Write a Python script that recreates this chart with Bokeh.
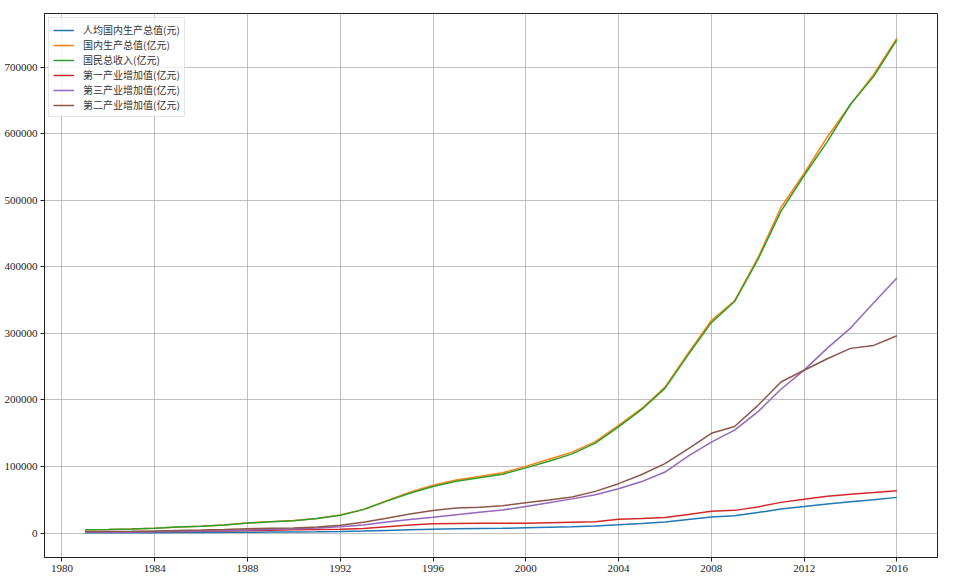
from bokeh.plotting import figure
from bokeh.models import SingleIntervalTicker, BasicTickFormatter, Range1d, Legend, LegendItem
from bokeh.embed import file_html
from bokeh.resources import INLINE

years = list(range(1981, 2017))

per_capita_gdp = [497, 533, 588, 702, 866, 973, 1123, 1378, 1536, 1663, 1912, 2334, 3027, 4081,
                  5091, 5898, 6481, 6860, 7229, 7942, 8717, 9506, 10666, 12487, 14368, 16738,
                  20494, 24100, 26180, 30808, 36302, 39874, 43684, 47005, 50028, 53680]
gdp = [4935.8, 5373.4, 6020.9, 7278.5, 9098.9, 10376.2, 12174.6, 15180.4, 17179.7, 18872.9,
       22005.6, 27194.5, 35673.2, 48637.5, 61339.9, 71813.6, 79715.0, 85195.5, 90564.4,
       100280.1, 110863.1, 121717.4, 137422.0, 161840.2, 187318.9, 219438.5, 270232.3,
       319515.5, 349081.4, 413030.3, 489300.6, 540367.4, 595244.4, 643974.0, 689052.1, 743585.5]
gni = [4889.5, 5330.5, 5985.6, 7243.8, 9040.7, 10274.4, 12050.6, 15036.8, 17000.9, 18718.3,
       21826.2, 26937.3, 35260.0, 48108.5, 59810.5, 70142.5, 78060.9, 83024.3, 88479.2,
       98000.5, 108068.2, 119095.7, 135174.0, 159586.7, 185808.6, 217522.7, 267763.7,
       316228.8, 347934.9, 410354.1, 483392.8, 537329.0, 588141.2, 644380.2, 686255.7, 741140.4]
primary = [1559.5, 1777.4, 1978.4, 2316.1, 2564.4, 2788.7, 3233.0, 3865.4, 4265.9, 5062.0,
           5342.2, 5866.6, 6963.8, 9572.7, 12135.8, 14015.4, 14441.9, 14817.6, 14770.0,
           14717.4, 15502.5, 16190.2, 16970.2, 20904.3, 21806.7, 23317.0, 27788.0, 32753.2,
           34161.8, 39362.6, 46163.1, 50902.3, 55329.1, 58343.5, 60862.1, 63672.8]
tertiary = [1120.8, 1213.0, 1396.3, 1856.7, 2667.9, 3094.8, 3690.0, 4727.8, 5635.8, 6093.5,
            7561.2, 9628.4, 12255.0, 16619.4, 20524.6, 23963.2, 27730.1, 31373.7, 34760.8,
            39897.9, 45700.0, 51421.7, 57754.4, 66648.9, 77427.8, 91759.7, 115810.7, 136823.9,
            154762.2, 182038.0, 216098.6, 244821.9, 277959.3, 308058.6, 346178.0, 383373.9]
secondary = [2255.5, 2383.0, 2646.2, 3105.7, 3866.6, 4492.7, 5251.6, 6587.2, 7278.0, 7717.4,
             9102.2, 11699.5, 16454.4, 22445.4, 28679.5, 33835.0, 37543.0, 39004.2, 41033.6,
             45664.8, 49660.7, 54105.5, 62697.4, 74286.9, 88084.4, 104361.8, 126633.6, 149956.6,
             160171.7, 191629.8, 227038.8, 244643.3, 261956.1, 277571.8, 282040.3, 296547.7]

labels = ["人均国内生产总值(元)", "国内生产总值(亿元)", "国民总收入(亿元)",
          "第一产业增加值(亿元)", "第三产业增加值(亿元)", "第二产业增加值(亿元)"]
series = [per_capita_gdp, gdp, gni, primary, tertiary, secondary]
colors = ["#1f77b4", "#ff7f0e", "#2ca02c", "#d62728", "#9467bd", "#8c564b"]

all_vals = [v for s in series for v in s]
ymin, ymax = min(all_vals), max(all_vals)
ypad = (ymax - ymin) * 0.05
xpad = (years[-1] - years[0]) * 0.05

p = figure(width=949, height=580, output_backend="svg", toolbar_location=None,
           x_range=Range1d(years[0] - xpad, years[-1] + xpad),
           y_range=Range1d(ymin - ypad, ymax + ypad),
           min_border_left=44, min_border_right=12, min_border_top=13, min_border_bottom=23)

items = []
for lab, s, c in zip(labels, series, colors):
    r = p.line(years, s, line_color=c, line_width=1.5)
    items.append(LegendItem(label=lab, renderers=[r]))

legend = Legend(items=items, location="top_left")
legend.label_text_font = "Noto Sans CJK SC"
legend.label_text_font_size = "10px"
legend.label_text_color = "#333333"
legend.label_height = 12
legend.glyph_height = 12
legend.glyph_width = 21
legend.label_standoff = 9
legend.spacing = 0
legend.padding = 4
legend.margin = 4
legend.border_line_color = "#cccccc"
legend.border_line_width = 1
legend.background_fill_alpha = 0.8
p.add_layout(legend)

p.xaxis.ticker = SingleIntervalTicker(interval=4)
p.yaxis.ticker = SingleIntervalTicker(interval=100000)
p.yaxis.formatter = BasicTickFormatter(use_scientific=False)

for ax in (p.xaxis, p.yaxis):
    ax.major_label_text_font = "Liberation Serif"
    ax.major_label_text_font_size = "11px"
    ax.major_label_text_color = "#222222"
    ax.major_tick_out = 4
    ax.major_tick_in = 0
    ax.minor_tick_out = 0
    ax.minor_tick_in = 0
    ax.major_tick_line_color = "#222222"
    ax.axis_line_color = "#222222"
    ax.major_label_standoff = 3

p.grid.grid_line_color = "#b0b0b0"
p.grid.grid_line_width = 0.8
p.outline_line_color = "#222222"
p.outline_line_width = 1
p.background_fill_color = "white"
p.border_fill_color = "white"

open("out.html", "w").write(file_html(p, INLINE))
